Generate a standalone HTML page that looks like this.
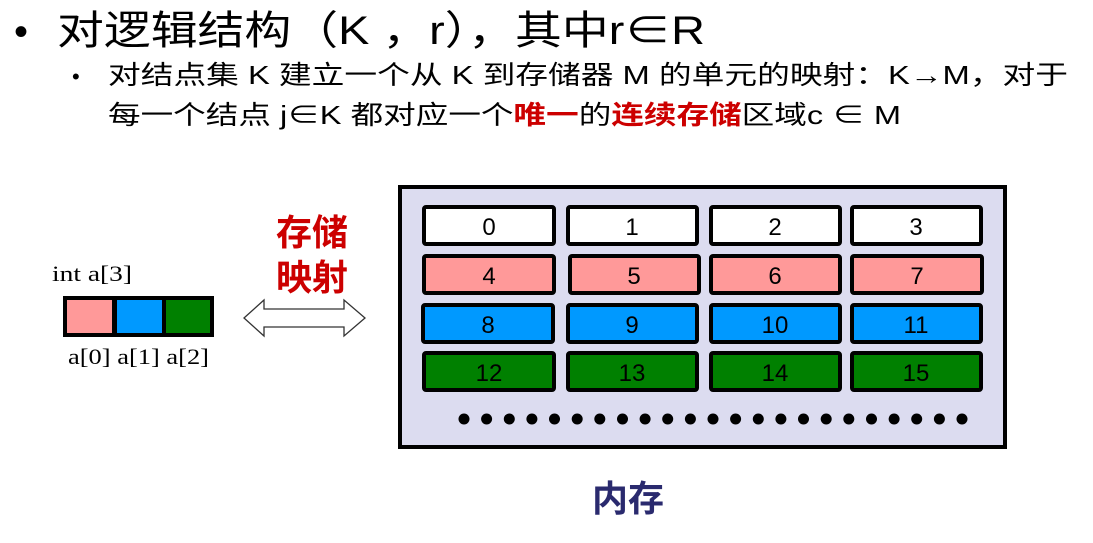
<!DOCTYPE html>
<html><head><meta charset="utf-8"><style>
body{margin:0;background:#fff;}
svg{display:block}
text{font-family:"Liberation Sans","Noto Sans CJK SC",sans-serif;}
</style></head><body>
<svg width="1093" height="543" viewBox="0 0 1093 543">
<text x="14" y="45" font-size="40">•</text>
<text x="57" y="44" font-size="40" textLength="648" lengthAdjust="spacingAndGlyphs">对逻辑结构（K ，r），其中r∈R</text>
<text x="72" y="84" font-size="22">•</text>
<text x="108" y="84" font-size="26" textLength="960" lengthAdjust="spacingAndGlyphs">对结点集 K 建立一个从 K 到存储器 M 的单元的映射：K→M，对于</text>
<text x="108" y="124" font-size="26" textLength="793" lengthAdjust="spacingAndGlyphs">每一个结点 j∈K 都对应一个<tspan fill="#cc0000" font-weight="bold">唯一</tspan>的<tspan fill="#cc0000" font-weight="bold">连续存储</tspan>区域c ∈ M</text>

<text x="312" y="245" font-size="36" font-weight="bold" fill="#cc0000" text-anchor="middle">存储</text>
<text x="312" y="290" font-size="36" font-weight="bold" fill="#cc0000" text-anchor="middle">映射</text>
<polygon points="244,318 264,300 264,309 344,309 344,300 365,318 344,336 344,327 264,327 264,336" fill="#fff" stroke="#333" stroke-width="1.3"/>

<text x="52" y="281" font-size="22" textLength="80" lengthAdjust="spacingAndGlyphs" style="font-family:'Liberation Serif',serif">int a[3]</text>
<rect x="63" y="296" width="151" height="41" fill="#000"/>
<rect x="67" y="300" width="45" height="33" fill="#ff9999"/>
<rect x="117" y="300" width="45" height="33" fill="#0099ff"/>
<rect x="166" y="300" width="44" height="33" fill="#008000"/>
<text x="68" y="364" font-size="22" textLength="141" lengthAdjust="spacingAndGlyphs" style="font-family:'Liberation Serif',serif">a[0] a[1] a[2]</text>

<rect x="400" y="187" width="605" height="260" fill="#dcdcf0" stroke="#000" stroke-width="4"/>
<g stroke="#000" stroke-width="4">
<rect x="424" y="207" width="130" height="37" fill="#fff" rx="2"/>
<rect x="568" y="207" width="129" height="37" fill="#fff" rx="2"/>
<rect x="711" y="207" width="129" height="37" fill="#fff" rx="2"/>
<rect x="852" y="207" width="129" height="37" fill="#fff" rx="2"/>
<rect x="424" y="256" width="130" height="37" fill="#ff9999" rx="2"/>
<rect x="570" y="256" width="129" height="37" fill="#ff9999" rx="2"/>
<rect x="711" y="256" width="129" height="37" fill="#ff9999" rx="2"/>
<rect x="852" y="256" width="130" height="37" fill="#ff9999" rx="2"/>
<rect x="423" y="305" width="130" height="37" fill="#0099ff" rx="2"/>
<rect x="568" y="305" width="129" height="37" fill="#0099ff" rx="2"/>
<rect x="711" y="305" width="129" height="37" fill="#0099ff" rx="2"/>
<rect x="852" y="305" width="129" height="37" fill="#0099ff" rx="2"/>
<rect x="424" y="353" width="130" height="37" fill="#008000" rx="2"/>
<rect x="568" y="353" width="129" height="37" fill="#008000" rx="2"/>
<rect x="711" y="353" width="129" height="37" fill="#008000" rx="2"/>
<rect x="852" y="353" width="129" height="37" fill="#008000" rx="2"/>
</g>
<g font-size="24" text-anchor="middle" fill="#000">
<text x="489" y="235">0</text><text x="632" y="235">1</text><text x="775" y="235">2</text><text x="916" y="235">3</text>
<text x="489" y="284">4</text><text x="634" y="284">5</text><text x="775" y="284">6</text><text x="917" y="284">7</text>
<text x="488" y="333">8</text><text x="632" y="333">9</text><text x="775" y="333">10</text><text x="916" y="333">11</text>
<text x="489" y="381">12</text><text x="632" y="381">13</text><text x="775" y="381">14</text><text x="916" y="381">15</text>
</g>
<g fill="#000">
<circle cx="464" cy="419" r="5.5"/><circle cx="486.6" cy="419" r="5.5"/><circle cx="509.3" cy="419" r="5.5"/><circle cx="531.9" cy="419" r="5.5"/><circle cx="554.5" cy="419" r="5.5"/><circle cx="577.2" cy="419" r="5.5"/><circle cx="599.8" cy="419" r="5.5"/><circle cx="622.5" cy="419" r="5.5"/><circle cx="645.1" cy="419" r="5.5"/><circle cx="667.7" cy="419" r="5.5"/><circle cx="690.4" cy="419" r="5.5"/><circle cx="713" cy="419" r="5.5"/><circle cx="735.6" cy="419" r="5.5"/><circle cx="758.3" cy="419" r="5.5"/><circle cx="780.9" cy="419" r="5.5"/><circle cx="803.5" cy="419" r="5.5"/><circle cx="826.2" cy="419" r="5.5"/><circle cx="848.8" cy="419" r="5.5"/><circle cx="871.5" cy="419" r="5.5"/><circle cx="894.1" cy="419" r="5.5"/><circle cx="916.7" cy="419" r="5.5"/><circle cx="939.4" cy="419" r="5.5"/><circle cx="962" cy="419" r="5.5"/>
</g>
<text x="628" y="511" font-size="36" font-weight="bold" fill="#2a2a6e" text-anchor="middle">内存</text>
</svg>
</body></html>
